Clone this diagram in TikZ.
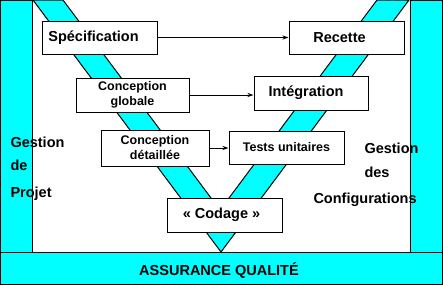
\documentclass[tikz,border=0pt]{standalone}
\usepackage{fontspec}
\setmainfont{Liberation Sans}
\usetikzlibrary{arrows.meta}
\definecolor{cy}{RGB}{0,255,255}
\begin{document}
\begin{tikzpicture}[x=1pt,y=-1pt,line width=1pt,
 box/.style={draw,fill=white,inner sep=0pt,align=center},
 big/.style={font=\fontsize{14.5}{16}\selectfont\bfseries},
 small/.style={font=\fontsize{12.5}{15}\selectfont\bfseries},
 lbl/.style={inner sep=0pt,anchor=base west,font=\fontsize{14.5}{16}\selectfont\bfseries},
 arr/.style={-{Stealth[length=6pt,width=4pt]}}]
\useasboundingbox (0,0) rectangle (443,285);
\fill[white] (0,0) rectangle (443,285);
% V band
\draw[fill=cy] (33,0) -- (63,0) -- (220,210) -- (377,0) -- (409,0) -- (221,252) -- cycle;
% side columns and bottom band
\draw[fill=cy] (0.5,0.5) rectangle (32.5,252);
\draw[fill=cy] (410,0.5) rectangle (442.5,252);
\draw[fill=cy] (0.5,252) rectangle (442.5,284.5);
% boxes
\node[box,big,minimum width=115pt,minimum height=33pt] (spec) at (99.5,37.5) {Spécification\hspace*{12pt}};
\node[box,big,minimum width=115pt,minimum height=33pt] (rec) at (346.5,37.5) {Recette\hspace*{14pt}};
\node[box,small,minimum width=113pt,minimum height=34pt] (cg) at (132.5,95) {Conception\\globale};
\node[box,big,minimum width=114pt,minimum height=34pt] (integ) at (311,93) {Intégration\hspace*{10pt}};
\node[box,small,minimum width=108pt,minimum height=36pt] (cd) at (155,148) {Conception\\détaillée};
\node[box,small,minimum width=115pt,minimum height=33pt] (tests) at (286.5,147.5) {Tests unitaires};
\node[box,big,minimum width=115pt,minimum height=34pt] (cod) at (224.5,215) {« Codage »\hspace*{6pt}};
% arrows
\draw[arr] (spec.east) -- (rec.west);
\draw[arr] (cg.east) -- (cg.east -| integ.west);
\draw[arr] (cd.east) -- (cd.east -| tests.west);
% side labels
\node[lbl] (g1) at (10,147) {Gestion};
\node[lbl] (g2) at (10,170) {de};
\node[lbl] (g3) at (10,197) {Projet};
\node[lbl] (c1) at (364,153) {Gestion};
\node[lbl] (c2) at (364,177) {des};
\node[lbl] (c3) at (313,203) {Configurations};
\node[inner sep=0pt,anchor=base,font=\fontsize{14.5}{16}\selectfont\bfseries] (qa) at (219,275) {ASSURANCE QUALITÉ};
\end{tikzpicture}
\end{document}
